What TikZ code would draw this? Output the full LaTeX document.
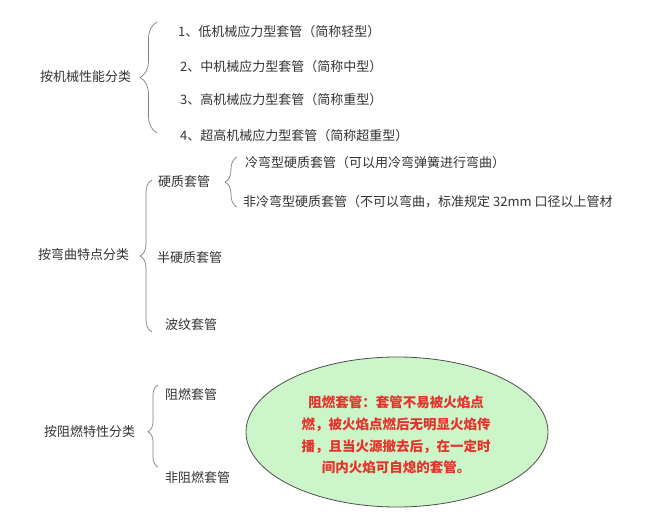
\documentclass[tikz,border=0pt]{standalone}
\usepackage{fontspec}
\setmainfont{Noto Sans CJK SC}
\usepackage{tikz}
\usetikzlibrary{shapes.geometric,decorations.pathreplacing}
\definecolor{txtgray}{HTML}{333333}
\definecolor{bracegray}{HTML}{808080}
\definecolor{ellfill}{HTML}{CCF5C9}
\definecolor{ellline}{HTML}{4D4D4D}
\definecolor{flamered}{HTML}{E5322B}
\begin{document}
\begin{tikzpicture}[x=1pt,y=1pt]
                \tikzstyle{every node}+=[inner sep=0pt, text=txtgray, font=\fontsize{13}{15}\selectfont]
                \tikzstyle{brc}=[bracegray, line width=0.7pt, decorate]
                \useasboundingbox (0,0) rectangle (660,-526);
                % by mechanical performance
                \node (mech) at (40,-77) [anchor=west] {按机械性能分类};
                \node (light) at (178,-32) [anchor=west] {1、低机械应力型套管（简称轻型）};
                \node (medium) at (180,-67) [anchor=west] {2、中机械应力型套管（简称中型）};
                \node (heavy) at (180,-100) [anchor=west] {3、高机械应力型套管（简称重型）};
                \node (xheavy) at (180,-136) [anchor=west] {4、超高机械应力型套管（简称超重型）};
                \coordinate (mechlo) at (157,-133);
                \coordinate (mechhi) at (157,-22);
                \draw [brc, decoration={brace, amplitude=17pt}] (mechlo) -- (mechhi);
                % by bending
                \node (bend) at (38,-255) [anchor=west] {按弯曲特点分类};
                \node (rigid) at (158,-182) [anchor=west] {硬质套管};
                \node (semi) at (157,-258) [anchor=west] {半硬质套管};
                \node (corr) at (165,-325) [anchor=west] {波纹套管};
                \node (cold) at (245,-163) [anchor=west] {冷弯型硬质套管（可以用冷弯弹簧进行弯曲）};
                \node (nocold) at (243,-202) [anchor=west] {非冷弯型硬质套管（不可以弯曲，标准规定 32mm 口径以上管材};
                \coordinate (bendlo) at (152,-332);
                \coordinate (bendhi) at (152,-180);
                \draw [brc, decoration={brace, amplitude=12pt}] (bendlo) -- (bendhi);
                \coordinate (rigidlo) at (237,-207);
                \coordinate (rigidhi) at (237,-157);
                \draw [brc, decoration={brace, amplitude=12pt}] (rigidlo) -- (rigidhi);
                % by flame retardance
                \node (flame) at (44,-432) [anchor=west] {按阻燃特性分类};
                \node (retard) at (165,-395) [anchor=west] {阻燃套管};
                \node (nonret) at (165,-478) [anchor=west] {非阻燃套管};
                \coordinate (flamelo) at (158,-467);
                \coordinate (flamehi) at (158,-385);
                \draw [brc, decoration={brace, amplitude=10pt, aspect=0.43}] (flamelo) -- (flamehi);
                \node (note) at (397,-432) [ellipse, draw=ellline, line width=0.8pt, fill=ellfill, minimum width=302pt, minimum height=150pt] {};
                \node (notetxt) at (396,-435) [align=center, text=flamered, font=\fontsize{13.5}{21.7}\selectfont\bfseries] {阻燃套管：套管不易被火焰点\\燃，被火焰点燃后无明显火焰传\\播，且当火源撤去后，在一定时\\间内火焰可自熄的套管。};
            \end{tikzpicture}
\end{document}
